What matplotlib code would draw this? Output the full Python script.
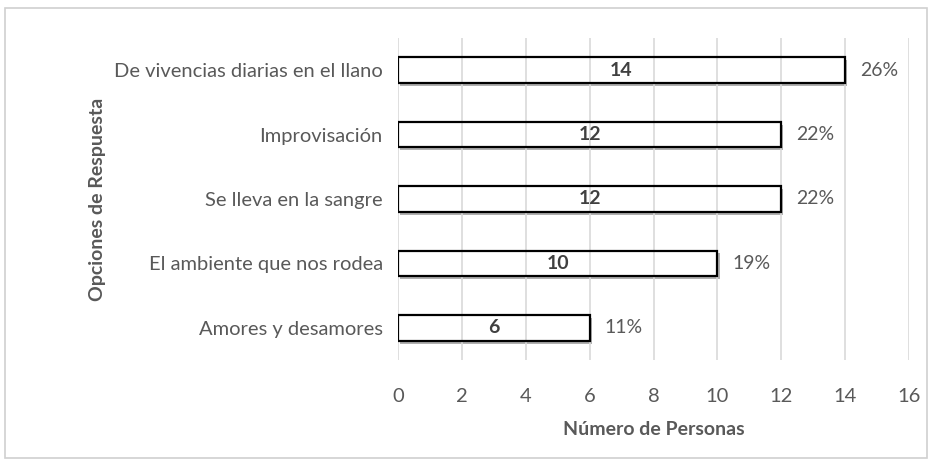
import matplotlib.pyplot as plt
from matplotlib.patches import Rectangle

# datos del grafico
categorias = ["Amores y desamores", "El ambiente que nos rodea", "Se lleva en la sangre",
              "Improvisación", "De vivencias diarias en el llano"]
personas = [6, 10, 12, 12, 14]
porcentajes = ["11%", "19%", "22%", "22%", "26%"]
ticks_x = [0, 2, 4, 6, 8, 10, 12, 14, 16]

gris = "#595959"
plt.rcParams["font.family"] = ["Lato", "DejaVu Sans"]

fig = plt.figure(figsize=(9.38, 4.66), dpi=100)
ax = fig.add_axes([398 / 938, 1 - 360 / 466, 511 / 938, 322 / 466])

# borde exterior del grafico
fig.patches.append(Rectangle((5 / 938, 8 / 466), 922 / 938, 450 / 466, transform=fig.transFigure,
                             fill=False, edgecolor="#d0d0d0", linewidth=1.2))

pos = list(range(len(categorias)))
# sombra: barra gris un poco desplazada, luego relleno blanco
ax.barh([p - 0.045 for p in pos], personas, left=0.07, height=0.4, facecolor="#b0b0b0",
        edgecolor="none", zorder=0.5)
ax.barh(pos, personas, height=0.4, facecolor="white", edgecolor="none", zorder=0.8)
# cuadricula vertical encima del relleno
ax.vlines(ticks_x, -0.5, 4.5, colors="#d9d9d9", linewidth=1.2, zorder=2)
# contorno encima
ax.barh(pos, personas, height=0.4, facecolor="none", edgecolor="black", linewidth=1.6, zorder=3)

for i, v in enumerate(personas):
    ax.text(v / 2, i, str(v), ha="center", va="center", fontsize=14, fontweight="bold", color="#404040", zorder=4)
    ax.annotate(porcentajes[i], (v, i), xytext=(11, 0), textcoords="offset points",
                ha="left", va="center", fontsize=14, color=gris)

ax.set_xlim(0, 16)
ax.set_ylim(-0.5, 4.5)
ax.set_xticks(ticks_x)
ax.set_yticks(pos)
ax.set_yticklabels(categorias)
ax.tick_params(axis="both", length=0, labelsize=14.5, colors=gris)
ax.tick_params(axis="x", pad=20)
ax.tick_params(axis="y", pad=11)
for s in ax.spines.values():
    s.set_visible(False)

ax.set_xlabel("Número de Personas", fontsize=14, fontweight="bold", color=gris, labelpad=12)
ax.set_ylabel("Opciones de Respuesta", fontsize=14, fontweight="bold", color=gris, labelpad=6)

fig.savefig("out.png", dpi=100)
